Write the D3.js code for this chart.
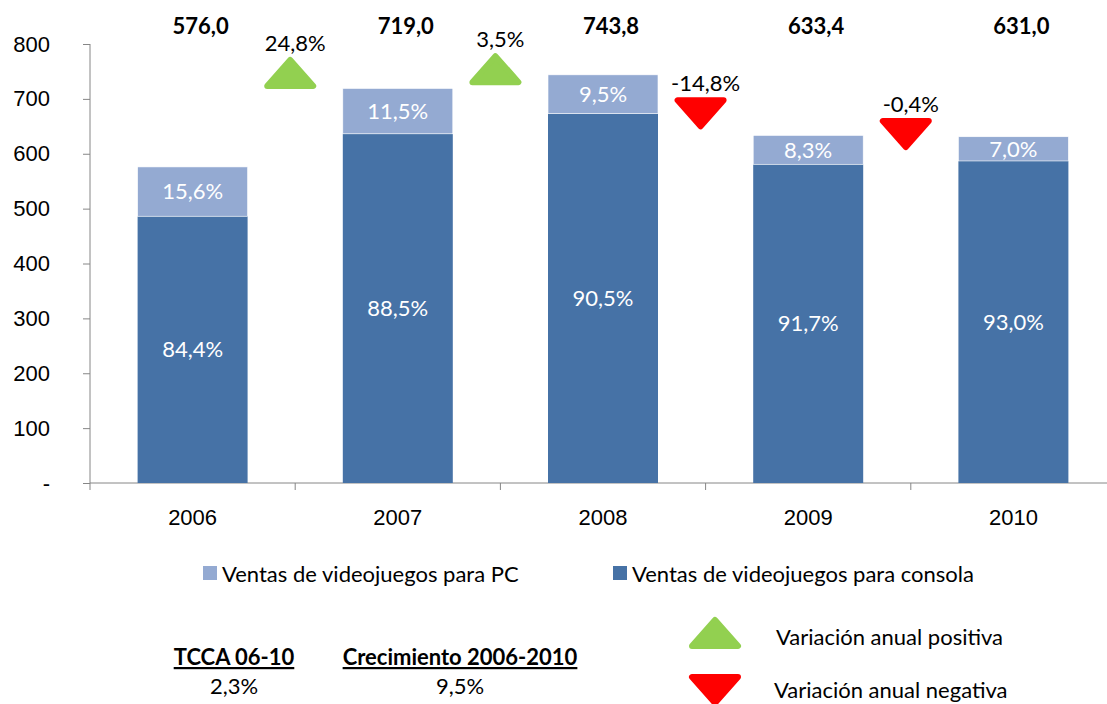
<!DOCTYPE html>
<html>
<head>
<meta charset="utf-8">
<script src="https://cdn.jsdelivr.net/npm/d3@7"></script>
<style>
  body { margin: 0; background: #fff; }
  svg { font-family: Lato, "Noto Sans", sans-serif; }
  .axis text { font-size: 22px; fill: #000; }
  .axis path, .axis line { stroke: #868686; }
</style>
</head>
<body>
<svg width="1107" height="704"></svg>
<script>
const years = ['2006', '2007', '2008', '2009', '2010'];
const totals = [576.0, 719.0, 743.8, 633.4, 631.0];
const consolaShare = [84.4, 88.5, 90.5, 91.7, 93.0];
const pcShare = [15.6, 11.5, 9.5, 8.3, 7.0];
const variations = [24.8, 3.5, -14.8, -0.4];
// value level where each arrow base sits
const arrowLevels = [718, 725, 703, 665];
const yTicks = [0, 100, 200, 300, 400, 500, 600, 700, 800];
const seriesNames = ['Ventas de videojuegos para PC', 'Ventas de videojuegos para consola'];
const tccaLabel = 'TCCA 06-10';
const tccaValue = 2.3;
const crecLabel = 'Crecimiento 2006-2010';
const crecValue = 9.5;

const svg = d3.select('svg');
const locale = d3.formatLocale({ decimal: ',', thousands: '.', grouping: [3], currency: ['', '€'], minus: '-' });
const f1 = locale.format('.1f');
const pct = v => f1(v) + '%';
const fs = 22;

const colPC = '#94aad2';
const colConsola = '#4672a6';
const green = '#92d050';
const red = '#ff0000';

const data = years.map((y, i) => {
    const consola = totals[i] * consolaShare[i] / 100;
    return { year: y, total: totals[i], consola: consola, pc: totals[i] - consola,
             consolaShare: consolaShare[i], pcShare: pcShare[i] };
});

const xScale = d3.scaleBand()
    .domain(years)
    .range([90, 1116])
    .paddingInner(0.464)
    .paddingOuter(0.232);

const yScale = d3.scaleLinear()
    .domain([0, 800])
    .range([483, 44]);

const step = xScale.step();
const gap = (step - xScale.bandwidth()) / 2;
const boundary = i => xScale(years[0]) - gap + i * step;

// y axis
const yAxis = d3.axisLeft(yScale)
    .tickValues(yTicks)
    .tickSize(7)
    .tickPadding(33)
    .tickFormat(d => d === 0 ? '-' : d);

const yAxisG = svg.append('g')
    .attr('class', 'axis')
    .attr('transform', 'translate(90,0)')
    .call(yAxis);
yAxisG.select('.domain').attr('d', `M0,${yScale(800)}V${yScale(0)}`);

// x axis
const xAxisG = svg.append('g')
    .attr('class', 'axis')
    .attr('transform', `translate(0,${yScale(0)})`)
    .call(d3.axisBottom(xScale).tickSize(0).tickPadding(26));
xAxisG.select('.domain').attr('d', `M${boundary(0)},0H${boundary(5)}`);
xAxisG.selectAll('.bound').data(d3.range(6))
    .enter().append('line')
    .attr('x1', i => boundary(i)).attr('x2', i => boundary(i))
    .attr('y1', 0).attr('y2', 7)
    .attr('stroke', '#868686');

// bars
const bars = svg.append('g');
bars.selectAll('.consola').data(data)
    .enter().append('rect')
    .attr('x', d => xScale(d.year))
    .attr('width', xScale.bandwidth())
    .attr('y', d => yScale(d.consola))
    .attr('height', d => yScale(0) - yScale(d.consola))
    .attr('fill', colConsola);

bars.selectAll('.pc').data(data)
    .enter().append('rect')
    .attr('x', d => xScale(d.year))
    .attr('width', xScale.bandwidth())
    .attr('y', d => yScale(d.total))
    .attr('height', d => yScale(d.consola) - yScale(d.total))
    .attr('fill', colPC)
    .attr('stroke', '#fff')
    .attr('stroke-width', 0.6);

const labels = svg.append('g')
    .attr('font-size', fs)
    .attr('fill', '#fff')
    .attr('text-anchor', 'middle');

labels.selectAll('.lc').data(data)
    .enter().append('text')
    .attr('x', d => xScale(d.year) + xScale.bandwidth() / 2)
    .attr('y', d => (yScale(d.consola) + yScale(0)) / 2)
    .attr('dy', '0.35em')
    .text(d => pct(d.consolaShare));

labels.selectAll('.lp').data(data)
    .enter().append('text')
    .attr('x', d => xScale(d.year) + xScale.bandwidth() / 2)
    .attr('y', d => (yScale(d.total) + yScale(d.consola)) / 2)
    .attr('dy', '0.35em')
    .text(d => pct(d.pcShare));

// totals
svg.append('g')
    .attr('font-size', fs)
    .attr('font-weight', 'bold')
    .attr('text-anchor', 'middle')
    .selectAll('text').data(data)
    .enter().append('text')
    .attr('x', d => xScale(d.year) + xScale.bandwidth() / 2 + 8)
    .attr('y', yScale(800) - 10)
    .text(d => f1(d.total));

// triangles
const triW = 52, triH = 32;
const triPath = (cx, top, up) => {
    const a = 3;
    if (up) return `M${cx},${top + a}L${cx + triW / 2 - a},${top + triH - a}L${cx - triW / 2 + a},${top + triH - a}Z`;
    return `M${cx - triW / 2 + a},${top + a}L${cx + triW / 2 - a},${top + a}L${cx},${top + triH - a}Z`;
};

const arrows = svg.append('g');
variations.forEach((v, i) => {
    const up = v >= 0;
    const cx = boundary(i + 1) - 5;
    const top = up ? yScale(arrowLevels[i]) - triH : yScale(arrowLevels[i]);
    const col = up ? green : red;
    arrows.append('path')
        .attr('d', triPath(cx, top, up))
        .attr('fill', col)
        .attr('stroke', col)
        .attr('stroke-width', 6)
        .attr('stroke-linejoin', 'round');
    arrows.append('text')
        .attr('x', cx + 5)
        .attr('y', top - 6)
        .attr('text-anchor', 'middle')
        .attr('font-size', fs)
        .text(pct(v));
});

// legend
const legend = svg.append('g').attr('font-size', fs);
const legendX = [203, 613];
[colPC, colConsola].forEach((c, i) => {
    legend.append('rect')
        .attr('x', legendX[i]).attr('y', 566)
        .attr('width', 14).attr('height', 14)
        .attr('fill', c);
    legend.append('text')
        .attr('x', legendX[i] + 19).attr('y', 582)
        .text(seriesNames[i]);
});

// growth summary
const summary = svg.append('g').attr('font-size', fs).attr('text-anchor', 'middle');
[[tccaLabel, tccaValue, 234], [crecLabel, crecValue, 460]].forEach(([lab, val, cx]) => {
    summary.append('text')
        .attr('x', cx).attr('y', 665)
        .attr('font-weight', 'bold')
        .attr('text-decoration', 'underline')
        .text(lab);
    summary.append('text')
        .attr('x', cx).attr('y', 694)
        .text(pct(val));
});

// arrow legend
const aLeg = svg.append('g').attr('font-size', fs);
aLeg.append('path').attr('d', triPath(715, 617, true))
    .attr('fill', green).attr('stroke', green).attr('stroke-width', 6).attr('stroke-linejoin', 'round');
aLeg.append('text').attr('x', 776).attr('y', 645).text('Variación anual positiva');
aLeg.append('path').attr('d', triPath(715, 674, false))
    .attr('fill', red).attr('stroke', red).attr('stroke-width', 6).attr('stroke-linejoin', 'round');
aLeg.append('text').attr('x', 774).attr('y', 698).text('Variación anual negativa');
</script>
</body>
</html>
